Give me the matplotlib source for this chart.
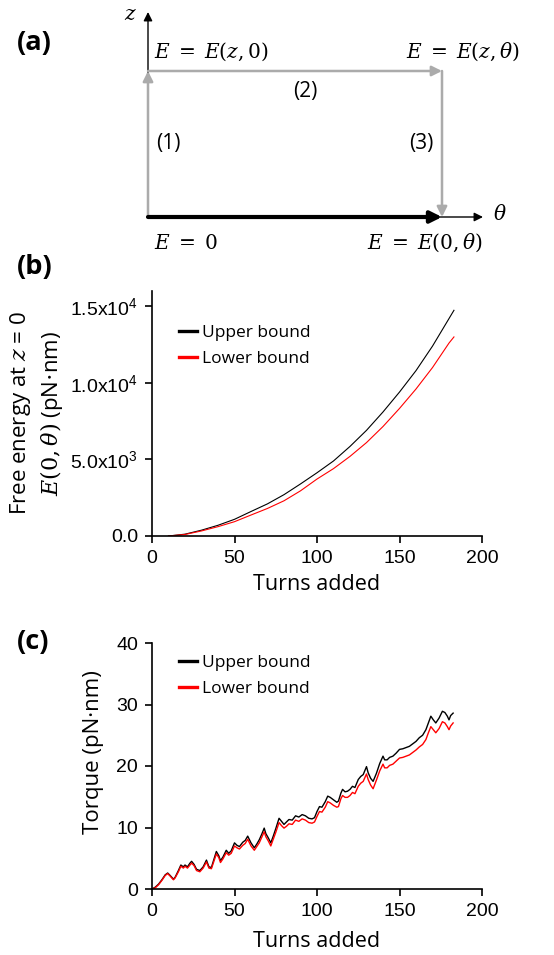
import matplotlib
matplotlib.use("Agg")
import matplotlib.pyplot as plt
from matplotlib.lines import Line2D

plt.rcParams['mathtext.fontset'] = 'dejavuserif'
plt.rcParams['font.family'] = ['Liberation Sans', 'DejaVu Sans']

# ---- datos do painel (b): energia livre em z = 0 ----
voltas_b = [10, 20, 30, 40, 50, 60, 70, 80, 90, 100, 110, 120, 130, 140, 150, 160, 170, 180, 183]
energia_sup = [0, 120, 380, 700, 1090, 1600, 2100, 2700, 3400, 4130, 4900, 5850, 6900, 8100,
               9400, 10800, 12400, 14200, 14740]
energia_inf = [0, 100, 330, 610, 935, 1370, 1800, 2300, 2950, 3720, 4400, 5200, 6100, 7150,
               8330, 9600, 11000, 12600, 13000]

# ---- datos do painel (c): torque ----
voltas_c = [0, 2, 4, 6, 8, 9.5, 11, 13, 14, 16, 17.5, 19, 20, 21.5, 23, 24, 25.5, 27, 29, 31,
            33, 34.5, 36, 37.5, 39, 40.5, 41.5, 43, 45, 46.5, 48, 50, 51.5, 53, 55, 56.5, 58, 60,
            62, 63.5, 65, 66.5, 68, 69, 70.5, 72, 73.5, 75, 77, 78.5, 80, 81.5, 83, 85, 87, 89,
            91, 93, 95, 97, 98.5, 100, 101.5, 103, 105, 106.5, 108, 110, 112, 113, 114.5, 115.5,
            117, 118.5, 120, 121.5, 123, 125, 126.5, 128, 130, 131, 132.5, 134, 136, 138, 140,
            141, 142.5, 144, 146, 148, 150, 152, 154, 156, 158, 160, 162, 164, 166, 167.5, 169,
            170.5, 172, 174, 176, 177.5, 179, 180, 181, 182.5]
torque_sup = [0, 0.3, 0.8, 1.5, 2.3, 2.6, 2.2, 1.6, 1.9, 3.0, 3.9, 3.6, 3.9, 3.6, 4.2, 4.5, 4.0,
              3.2, 3.0, 3.6, 4.7, 3.6, 3.5, 4.8, 6.1, 5.4, 4.6, 5.2, 6.3, 5.8, 6.2, 7.5, 7.1, 6.9,
              7.6, 7.9, 8.6, 7.5, 6.7, 7.3, 8.0, 8.9, 9.9, 9.0, 8.3, 7.5, 8.6, 9.8, 11.5, 11.0,
              10.5, 10.9, 11.3, 11.2, 11.9, 11.7, 12.1, 11.9, 11.5, 11.4, 11.6, 12.6, 13.4, 13.3,
              14.2, 15.1, 14.9, 14.5, 14.1, 14.3, 15.6, 16.2, 15.8, 15.9, 16.2, 16.7, 16.5, 17.8,
              18.3, 18.6, 19.9, 18.9, 18.0, 17.5, 18.8, 20.4, 21.6, 21.0, 21.0, 21.4, 21.6, 22.1,
              22.7, 22.8, 23.0, 23.2, 23.6, 24.0, 24.6, 25.0, 25.9, 27.0, 28.1, 27.5, 27.0, 27.8,
              28.9, 28.7, 28.1, 27.5, 28.2, 28.6]
torque_inf = [0, 0.2, 0.7, 1.4, 2.2, 2.5, 2.1, 1.5, 1.8, 2.8, 3.7, 3.4, 3.7, 3.4, 3.9, 4.2, 3.8,
              3.0, 2.8, 3.4, 4.4, 3.4, 3.3, 4.5, 5.7, 5.1, 4.3, 4.9, 5.9, 5.5, 5.8, 7.0, 6.7, 6.5,
              7.1, 7.4, 8.1, 7.0, 6.3, 6.9, 7.5, 8.4, 9.3, 8.5, 7.8, 7.0, 8.1, 9.2, 10.8, 10.3,
              9.9, 10.2, 10.6, 10.5, 11.2, 11.0, 11.4, 11.2, 10.8, 10.7, 10.9, 11.8, 12.6, 12.5,
              13.3, 14.2, 14.0, 13.6, 13.3, 13.4, 14.7, 15.2, 14.9, 14.9, 15.2, 15.7, 15.5, 16.7,
              17.2, 17.5, 18.7, 17.8, 16.9, 16.3, 17.7, 19.2, 20.3, 19.7, 19.7, 20.1, 20.3, 20.8,
              21.3, 21.4, 21.6, 21.8, 22.2, 22.6, 23.1, 23.5, 24.3, 25.4, 26.4, 25.9, 25.4, 26.1,
              27.2, 27.0, 26.4, 25.9, 26.5, 27.0]

rotulos_b = ['0.0', r'$\mathregular{5.0x10^3}$', r'$\mathregular{1.0x10^4}$', r'$\mathregular{1.5x10^4}$']
ticks_b = [0, 5000, 10000, 15000]

W, H = 554, 955
fig = plt.figure(figsize=(W / 100, H / 100), dpi=100)

#%% painel (a): diagrama do caminho de integracao
ax_bg = fig.add_axes([0, 0, 1, 1], zorder=0)
ax_bg.set_xlim(0, W)
ax_bg.set_ylim(H, 0)
ax_bg.axis('off')

cinza = '#ababab'
x0, x1, y0, y1 = 148, 442, 217, 71


def seta(p_ini, p_fim, cor, lw, escala):
    ax_bg.annotate('', xy=p_fim, xytext=p_ini,
                   arrowprops=dict(arrowstyle='-|>', color=cor, lw=lw, mutation_scale=escala,
                                   shrinkA=0, shrinkB=0))


# eixos z e theta
seta((x0, y0), (x0, 12), 'black', 1.0, 13)
seta((x0, y0), (483, y0), 'black', 1.0, 13)
# caminho (1), (2), (3)
seta((x0, y0), (x0, y1), cinza, 1.8, 15)
seta((x0, y1), (x1, y1), cinza, 1.8, 15)
seta((x1, y1), (x1, y0), cinza, 1.8, 15)
# caminho direto
seta((x0, y0), (x1, y0), 'black', 3.0, 17)

fs_mat = 14.5
ax_bg.text(130, 15, r'$z$', fontsize=fs_mat, ha='center', va='center')
ax_bg.text(500, 214, r'$\theta$', fontsize=fs_mat, ha='center', va='center')
ax_bg.text(154, 52, r'$E\;=\;E(z,0)$', fontsize=fs_mat, ha='left', va='center')
ax_bg.text(520, 52, r'$E\;=\;E(z,\theta)$', fontsize=fs_mat, ha='right', va='center')
ax_bg.text(154, 243, r'$E\;=\;0$', fontsize=fs_mat, ha='left', va='center')
ax_bg.text(483, 243, r'$E\;=\;E(0,\theta)$', fontsize=fs_mat, ha='right', va='center')
ax_bg.text(305, 92, '(2)', fontsize=15, family='Open Sans', ha='center', va='center')
ax_bg.text(168, 143, '(1)', fontsize=15, family='Open Sans', ha='center', va='center')
ax_bg.text(421, 143, '(3)', fontsize=15, family='Open Sans', ha='center', va='center')

for txt, yy in [('(a)', 43), ('(b)', 267), ('(c)', 642)]:
    ax_bg.text(17, yy, txt, fontsize=19.5, fontweight='bold', family='Open Sans',
               ha='left', va='center')


def estilo(ax, leg_y, pad_rotulo):
    for lado in ['top', 'right']:
        ax.spines[lado].set_visible(False)
    for lado in ['left', 'bottom']:
        ax.spines[lado].set_linewidth(1.2)
    ax.tick_params(direction='out', length=5, width=1.2, labelsize=14, pad=5)
    ax.set_xlim(0, 200)
    ax.set_xticks([0, 50, 100, 150, 200])
    ax.set_xlabel('Turns added', fontsize=15.5, family='Open Sans', labelpad=pad_rotulo)
    alcas = [Line2D([], [], color='black', lw=2.4), Line2D([], [], color='red', lw=2.4)]
    ax.legend(alcas, ['Upper bound', 'Lower bound'], loc='upper left',
              bbox_to_anchor=(0.06, leg_y), frameon=False, handlelength=1.05,
              handletextpad=0.3, labelspacing=0.55, borderaxespad=0,
              prop={'family': 'Open Sans', 'size': 12.5})


#%% painel (b)
ax_b = fig.add_axes([152 / W, (H - 536) / H, 330 / W, (536 - 291) / H], zorder=1)
ax_b.patch.set_alpha(0)
ax_b.plot(voltas_b, energia_sup, color='black', lw=0.8)
ax_b.plot(voltas_b, energia_inf, color='red', lw=0.8)
ax_b.set_ylim(0, 16000)
ax_b.set_yticks(ticks_b)
ax_b.set_yticklabels(rotulos_b)
estilo(ax_b, 0.89, 5)
ax_b.set_ylabel('Free energy at $z$ = 0\n' + r'$E(0,\theta)$ (pN$\cdot$nm)',
                fontsize=16, family='Open Sans', linespacing=1.25, labelpad=4)

#%% painel (c)
ax_c = fig.add_axes([152 / W, (H - 889) / H, 330 / W, (889 - 643) / H], zorder=1)
ax_c.patch.set_alpha(0)
ax_c.plot(voltas_c, torque_sup, color='black', lw=1.0)
ax_c.plot(voltas_c, torque_inf, color='red', lw=1.0)
ax_c.set_ylim(0, 40)
ax_c.set_yticks([0, 10, 20, 30, 40])
estilo(ax_c, 0.98, 8)
ax_c.set_ylabel('Torque (pN·nm)', fontsize=16, family='Open Sans', labelpad=9)
ax_c.yaxis.label.set_y(0.557)

fig.savefig('out.png', dpi=100)
